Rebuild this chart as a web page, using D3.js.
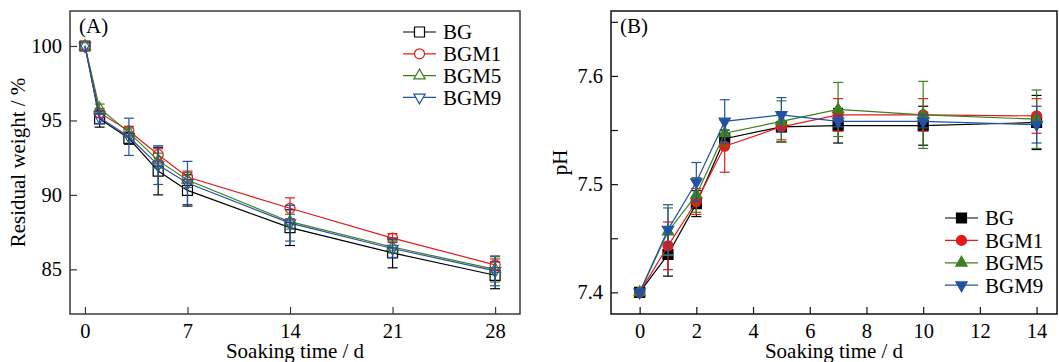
<!DOCTYPE html>
<html>
<head>
<meta charset="utf-8">
<script src="https://cdn.jsdelivr.net/npm/d3@7"></script>
<style>
  body { margin: 0; background: #fff; }
  svg { display: block; font-family: "Liberation Serif", "Times New Roman", serif; }
</style>
</head>
<body>
<div id="chart"></div>
<script>
// ---- data (A) residual weight ----
const seriesNames = ['BG', 'BGM1', 'BGM5', 'BGM9'];
const daysA = [0, 1, 3, 5, 7, 14, 21, 28];
const weightBG   = [100, 95.1, 93.8, 91.6, 90.3, 87.8, 86.1, 84.6];
const weightBGM1 = [100, 95.5, 94.3, 92.7, 91.2, 89.1, 87.1, 85.3];
const weightBGM5 = [100, 95.8, 94.2, 92.3, 91.0, 88.2, 86.5, 85.0];
const weightBGM9 = [100, 95.2, 93.9, 92.0, 90.8, 88.1, 86.4, 84.9];
const weightErrBG   = [0, 0.55, 0.4, 1.6, 1.05, 1.2, 1.0, 0.9];
const weightErrBGM1 = [0, 0.3, 0.3, 0.4, 0.4, 0.7, 0.3, 0.4];
const weightErrBGM5 = [0, 0.3, 0.3, 0.5, 0.5, 0.5, 0.4, 0.85];
const weightErrBGM9 = [0, 0.4, 1.25, 1.3, 1.45, 1.2, 0.6, 1.0];
const ticksXA = [0, 7, 14, 21, 28];
const ticksYA = [85, 90, 95, 100];

// ---- data (B) pH ----
const daysB = [0, 1, 2, 3, 5, 7, 10, 14];
const phBG   = [7.40, 7.435, 7.482, 7.542, 7.553, 7.554, 7.554, 7.557];
const phBGM1 = [7.40, 7.443, 7.484, 7.535, 7.553, 7.564, 7.564, 7.563];
const phBGM5 = [7.40, 7.456, 7.490, 7.547, 7.558, 7.569, 7.564, 7.560];
const phBGM9 = [7.40, 7.458, 7.502, 7.558, 7.564, 7.558, 7.558, 7.555];
const phErrBG   = [0, 0.02, 0.012, 0.008, 0.014, 0.016, 0.018, 0.025];
const phErrBGM1 = [0, 0.022, 0.012, 0.024, 0.012, 0.015, 0.015, 0.016];
const phErrBGM5 = [0, 0.022, 0.016, 0.012, 0.019, 0.025, 0.031, 0.027];
const phErrBGM9 = [0, 0.023, 0.018, 0.02, 0.016, 0.005, 0.006, 0.017];
const ticksXB = [0, 2, 4, 6, 8, 10, 12, 14];
const ticksYB = [7.4, 7.5, 7.6];
const minorYB = [7.45, 7.55, 7.65];

const colors = { BG: '#000000', BGM1: '#e31a1c', BGM5: '#3d7f1f', BGM9: '#2452a3' };
const shapes = { BG: 'square', BGM1: 'circle', BGM5: 'up', BGM9: 'down' };

const width = 1059, height = 362;
const svg = d3.select('#chart').append('svg')
  .attr('width', width).attr('height', height);

function markerPath(shape, s) {
  // s ~ marker "diameter" in px
  if (shape === 'square') return d3.symbol(d3.symbolSquare, s * s)();
  if (shape === 'circle') return d3.symbol(d3.symbolCircle, Math.PI * s * s / 4)();
  return d3.symbol(d3.symbolTriangle, s * s * 0.55)();
}

function drawPanel(cfg) {
  const g = svg.append('g');
  const x = d3.scaleLinear().domain(cfg.xDomain).range([cfg.left, cfg.right]);
  const y = d3.scaleLinear().domain(cfg.yDomain).range([cfg.bottom, cfg.top]);

  // axes with inward ticks
  g.append('g')
    .attr('transform', `translate(0,${cfg.bottom})`)
    .call(d3.axisBottom(x).tickValues(cfg.xTicks).tickSize(-7).tickPadding(9).tickFormat(d3.format('d')))
    .call(a => a.select('.domain').remove());

  g.append('g')
    .attr('transform', `translate(${cfg.left},0)`)
    .call(d3.axisLeft(y).tickValues(cfg.yTicks).tickSize(-7).tickPadding(8).tickFormat(cfg.yFormat))
    .call(a => a.select('.domain').remove());

  if (cfg.yMinor) {
    g.append('g')
      .attr('transform', `translate(${cfg.left},0)`)
      .call(d3.axisLeft(y).tickValues(cfg.yMinor).tickSize(-7).tickFormat(''))
      .call(a => a.select('.domain').remove());
  }

  g.selectAll('.tick text').attr('font-size', 20.5).attr('fill', '#000')
    .attr('font-family', '"Liberation Serif", serif');
  g.selectAll('.tick line').attr('stroke', cfg.frame).attr('stroke-width', 1.2);

  g.append('rect')
    .attr('x', cfg.left).attr('y', cfg.top)
    .attr('width', cfg.right - cfg.left).attr('height', cfg.bottom - cfg.top)
    .attr('fill', 'none').attr('stroke', cfg.frame).attr('stroke-width', 1.5);

  // series
  cfg.series.forEach(s => {
    const pts = cfg.days.map((d, i) => ({ x: d, y: s.values[i], e: s.err[i] }));
    const color = colors[s.name];
    const sg = g.append('g');

    sg.append('path')
      .datum(pts)
      .attr('fill', 'none')
      .attr('stroke', color)
      .attr('stroke-width', 1.2)
      .attr('d', d3.line().x(p => x(p.x)).y(p => y(p.y)));

    const eb = sg.selectAll('.err').data(pts.filter(p => p.e > 0)).join('g');
    eb.append('line')
      .attr('x1', p => x(p.x)).attr('x2', p => x(p.x))
      .attr('y1', p => y(p.y - p.e)).attr('y2', p => y(p.y + p.e))
      .attr('stroke', color).attr('stroke-width', 1.2);
    [-1, 1].forEach(sign => {
      eb.append('line')
        .attr('x1', p => x(p.x) - 5).attr('x2', p => x(p.x) + 5)
        .attr('y1', p => y(p.y + sign * p.e)).attr('y2', p => y(p.y + sign * p.e))
        .attr('stroke', color).attr('stroke-width', 1.2);
    });

    sg.selectAll('.mk').data(pts).join('path')
      .attr('d', markerPath(shapes[s.name], cfg.markerSize))
      .attr('transform', p => `translate(${x(p.x)},${y(p.y)})${shapes[s.name] === 'down' ? ' rotate(180)' : ''}`)
      .attr('fill', cfg.filled ? color : 'none')
      .attr('stroke', color)
      .attr('stroke-width', 1.2);
  });

  // panel label
  g.append('text').attr('x', cfg.left + 9).attr('y', 33)
    .attr('font-size', 21).text(cfg.label);

  // axis titles
  g.append('text')
    .attr('x', (cfg.left + cfg.right) / 2).attr('y', 357.5)
    .attr('text-anchor', 'middle').attr('font-size', 21)
    .text('Soaking time / d');
  g.append('text')
    .attr('transform', `translate(${cfg.yTitleX},${(cfg.top + cfg.bottom) / 2}) rotate(-90)`)
    .attr('text-anchor', 'middle').attr('dy', '0.35em').attr('font-size', 21)
    .text(cfg.yTitle);

  // legend
  const lg = g.append('g').selectAll('g').data(cfg.series).join('g')
    .attr('transform', (s, i) => `translate(${cfg.legendX},${cfg.legendY + i * cfg.legendStep})`);
  lg.append('line').attr('x1', 0).attr('x2', 33).attr('y1', 0).attr('y2', 0)
    .attr('stroke', s => colors[s.name]).attr('stroke-width', 1.2);
  lg.append('path')
    .attr('d', s => markerPath(shapes[s.name], cfg.markerSize))
    .attr('transform', s => `translate(16.5,0)${shapes[s.name] === 'down' ? ' rotate(180)' : ''}`)
    .attr('fill', s => cfg.filled ? colors[s.name] : '#fff')
    .attr('stroke', s => colors[s.name]).attr('stroke-width', 1.2);
  lg.append('text').attr('x', 40).attr('dy', '0.35em').attr('font-size', 21)
    .text(s => s.name);
}

drawPanel({
  label: '(A)', left: 70, right: 520, top: 11, bottom: 314,
  xDomain: [-1.02, 29.7], yDomain: [82.0, 102.35],
  xTicks: ticksXA, yTicks: ticksYA, yFormat: d3.format('d'),
  frame: '#3a3a3a', yTitle: 'Residual weight / %', yTitleX: 18,
  days: daysA, filled: false, markerSize: 10,
  legendX: 403, legendY: 32, legendStep: 21.8,
  series: [
    { name: 'BG', values: weightBG, err: weightErrBG },
    { name: 'BGM1', values: weightBGM1, err: weightErrBGM1 },
    { name: 'BGM5', values: weightBGM5, err: weightErrBGM5 },
    { name: 'BGM9', values: weightBGM9, err: weightErrBGM9 }
  ]
});

drawPanel({
  label: '(B)', left: 611, right: 1057, top: 11, bottom: 314,
  xDomain: [-1.01, 14.72], yDomain: [7.38, 7.66],
  xTicks: ticksXB, yTicks: ticksYB, yMinor: minorYB, yFormat: d3.format('.1f'),
  frame: '#111111', yTitle: 'pH', yTitleX: 560,
  days: daysB, filled: true, markerSize: 10,
  legendX: 945, legendY: 218, legendStep: 22.4,
  series: [
    { name: 'BG', values: phBG, err: phErrBG },
    { name: 'BGM1', values: phBGM1, err: phErrBGM1 },
    { name: 'BGM5', values: phBGM5, err: phErrBGM5 },
    { name: 'BGM9', values: phBGM9, err: phErrBGM9 }
  ]
});
</script>
</body>
</html>
